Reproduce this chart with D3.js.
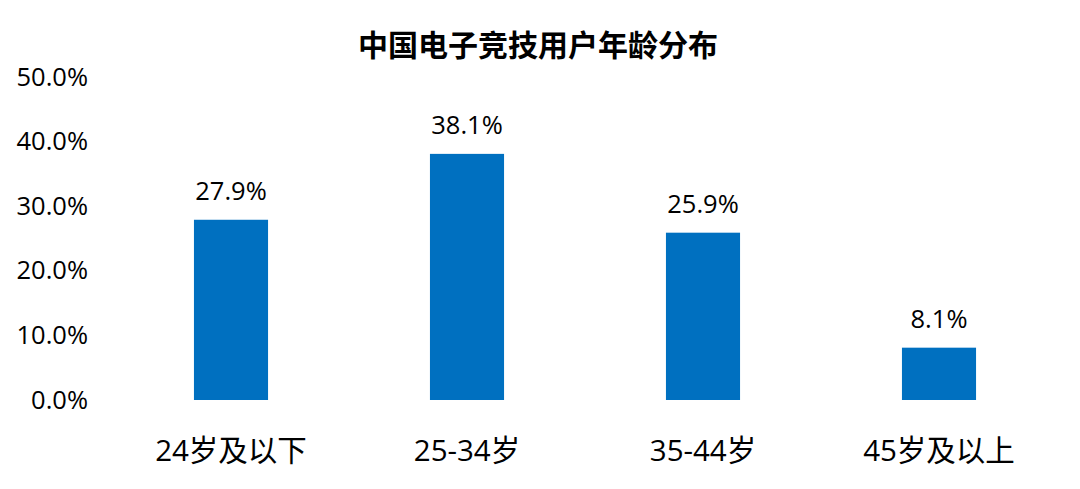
<!DOCTYPE html>
<html><head><meta charset="utf-8">
<script src="https://cdn.jsdelivr.net/npm/d3@7"></script>
<style>body{margin:0;background:#fff}svg{display:block}text{font-family:"Open Sans","Noto Sans CJK SC",sans-serif}</style>
</head><body><svg id="c" width="1080" height="489"></svg>
<script>
const title = "中国电子竞技用户年龄分布";
const categories = ["24岁及以下","25-34岁","35-44岁","45岁及以上"];
const values = [27.9, 38.1, 25.9, 8.1];
const yTicks = [0,10,20,30,40,50];

const svg = d3.select("#c");
const x = d3.scaleBand().domain(categories).range([113,1057]).paddingInner(0.686).paddingOuter(0.343);
const y = d3.scaleLinear().domain([0,50]).range([400,77]);

svg.append("text").attr("x",538).attr("y",56).attr("text-anchor","middle")
  .attr("font-size",30).attr("font-weight","bold").attr("fill","#000")
  .style("font-family",'"Noto Sans CJK SC",sans-serif').text(title);

const yAxis = svg.append("g").attr("transform","translate(88,0)")
  .call(d3.axisLeft(y).tickValues(yTicks).tickFormat(d=>d.toFixed(1)+"%").tickSize(0).tickPadding(0));
yAxis.select(".domain").remove();
yAxis.selectAll("text").attr("font-size",25.5).attr("fill","#000").style("font-family",'"Open Sans",sans-serif');

const xAxis = svg.append("g").attr("transform","translate(0,400)")
  .call(d3.axisBottom(x).tickSize(0).tickPadding(0));
xAxis.select(".domain").remove();
xAxis.selectAll("text").attr("font-size",29.5).attr("fill","#000").attr("dy",null).attr("y",61)
  .style("font-family",'"Open Sans","Noto Sans CJK SC",sans-serif');

svg.selectAll("rect.bar").data(values).join("rect").attr("class","bar")
  .attr("x",(d,i)=>x(categories[i])).attr("width",x.bandwidth())
  .attr("y",d=>y(d)).attr("height",d=>y(0)-y(d)).attr("fill","#0070C0");

svg.selectAll("text.val").data(values).join("text").attr("class","val")
  .attr("x",(d,i)=>x(categories[i])+x.bandwidth()/2).attr("y",d=>y(d)-20)
  .attr("text-anchor","middle").attr("font-size",25.5).attr("fill","#000")
  .text(d=>d.toFixed(1)+"%");
</script></body></html>
